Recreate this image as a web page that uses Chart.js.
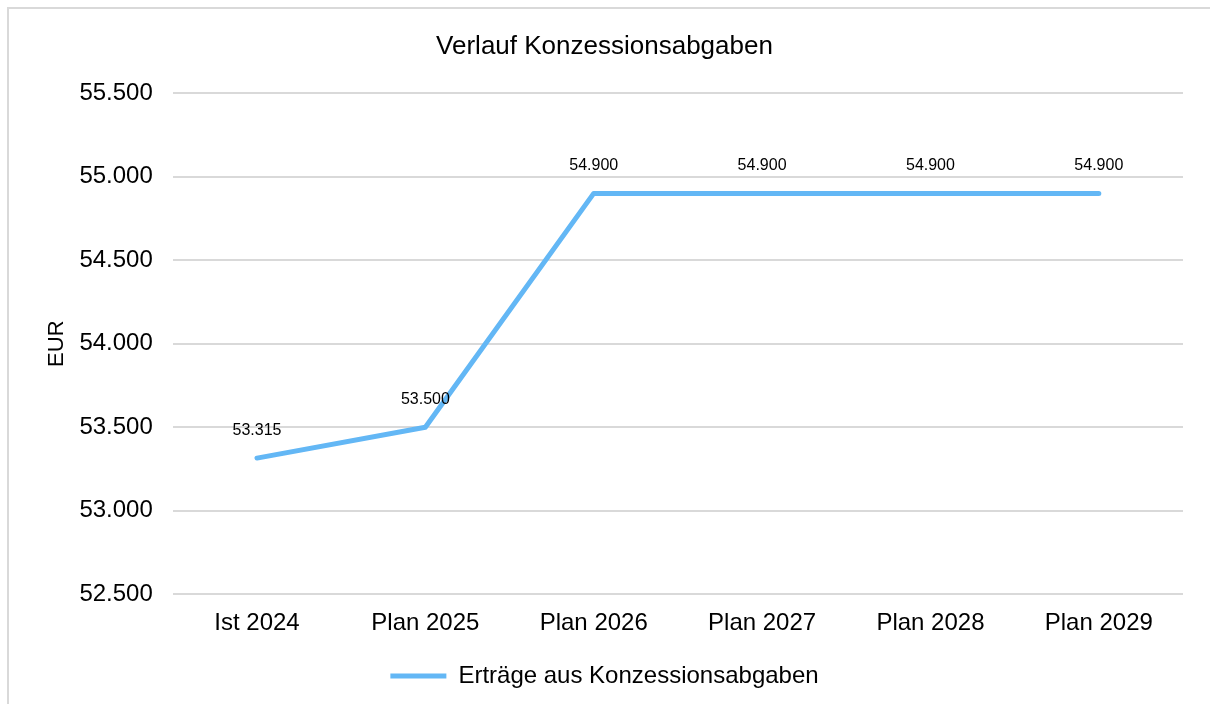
<!DOCTYPE html>
<html lang="de">
<head>
<meta charset="utf-8">
<title>Verlauf Konzessionsabgaben</title>
<script src="https://cdn.jsdelivr.net/npm/chart.js@4"></script>
<style>
    html, body { margin: 0; padding: 0; background: #fff; overflow: hidden; }
    .frame {
        position: absolute; left: 7px; top: 7px; width: 1300px; height: 800px;
        border-top: 2px solid #d9d9d9; border-left: 2px solid #d9d9d9;
    }
    .wrap { position: absolute; left: 0; top: 0; width: 1210px; height: 704px; }
</style>
</head>
<body>
<div class="frame"></div>
<div class="wrap"><canvas id="chart"></canvas></div>
<script>
// --- DATA ---
const categories = ['Ist 2024', 'Plan 2025', 'Plan 2026', 'Plan 2027', 'Plan 2028', 'Plan 2029'];
const ertraege = [53315, 53500, 54900, 54900, 54900, 54900];
const seriesLabel = 'Erträge aus Konzessionsabgaben';
const yMin = 52500;
const yMax = 55500;
const yStep = 500;

const FONT = "'Liberation Sans', Arial, sans-serif";
const LINE_COLOR = '#63b7f5';

// German thousands separator
function fmt(v) {
    return String(Math.round(v)).replace(/\B(?=(\d{3})+(?!\d))/g, '.');
}

// value labels above each point
const valueLabels = {
    id: 'valueLabels',
    afterDatasetsDraw(chart) {
        const ctx = chart.ctx;
        const meta = chart.getDatasetMeta(0);
        ctx.save();
        ctx.font = '16px ' + FONT;
        ctx.fillStyle = '#000';
        ctx.textAlign = 'center';
        ctx.textBaseline = 'middle';
        meta.data.forEach((pt, i) => {
            ctx.fillText(fmt(ertraege[i]), pt.x, pt.y - 28);
        });
        ctx.restore();
    }
};

Chart.defaults.font.family = FONT;
Chart.defaults.color = '#000';

new Chart(document.getElementById('chart'), {
    type: 'line',
    data: {
        labels: categories,
        datasets: [{
            label: seriesLabel,
            data: ertraege,
            borderColor: LINE_COLOR,
            backgroundColor: LINE_COLOR,
            borderWidth: 5,
            borderCapStyle: 'round',
            borderJoinStyle: 'round',
            pointRadius: 0,
            tension: 0
        }]
    },
    options: {
        responsive: true,
        maintainAspectRatio: false,
        animation: false,
        layout: { padding: { left: 26, right: 27, top: 25, bottom: 6 } },
        plugins: {
            title: {
                display: true,
                text: 'Verlauf Konzessionsabgaben',
                font: { size: 26, weight: 'normal' },
                color: '#000',
                padding: { top: 6, bottom: 31 }
            },
            legend: {
                position: 'bottom',
                labels: {
                    font: { size: 24 },
                    color: '#000',
                    boxWidth: 56,
                    boxHeight: 5,
                    useBorderRadius: true,
                    borderRadius: 2.5,
                    padding: 11,
                    generateLabels: (chart) => [{
                        text: seriesLabel,
                        fillStyle: LINE_COLOR,
                        strokeStyle: LINE_COLOR,
                        lineWidth: 0,
                        datasetIndex: 0
                    }]
                }
            },
            tooltip: { enabled: false }
        },
        scales: {
            x: {
                offset: true,
                grid: { display: false, drawTicks: false },
                border: { display: false },
                ticks: { font: { size: 24 }, color: '#000', padding: 15, maxRotation: 0 }
            },
            y: {
                min: yMin,
                max: yMax,
                ticks: {
                    stepSize: yStep,
                    font: { size: 24 },
                    color: '#000',
                    padding: 20,
                    callback: (v) => fmt(v)
                },
                grid: { color: '#d9d9d9', lineWidth: 2, drawTicks: false },
                border: { display: false },
                title: {
                    display: true,
                    text: 'EUR',
                    font: { size: 22 },
                    color: '#000',
                    padding: { top: 18, bottom: -11 }
                }
            }
        }
    },
    plugins: [valueLabels]
});
</script>
</body>
</html>
